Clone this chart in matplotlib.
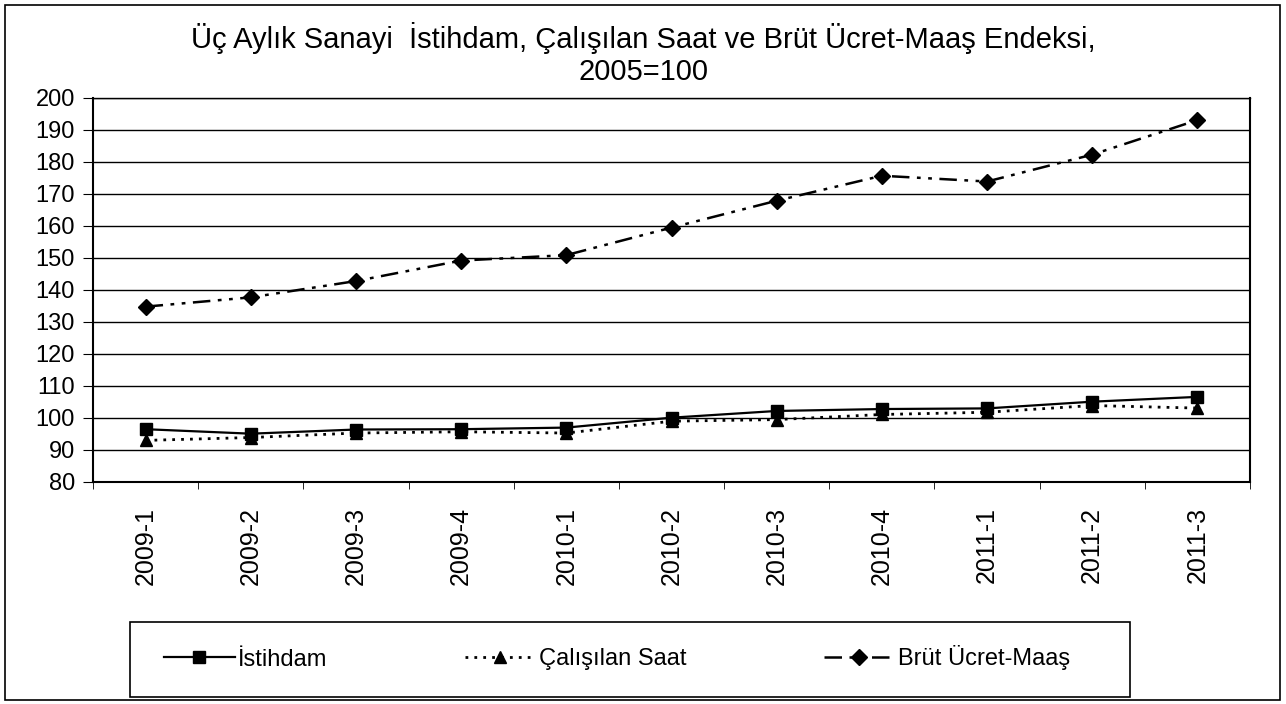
import matplotlib
matplotlib.use('Agg')
import matplotlib.pyplot as plt
from matplotlib.patches import Rectangle

plt.rcParams['font.family'] = ['Liberation Sans', 'DejaVu Sans']

# veriler
donemler = ['2009-1', '2009-2', '2009-3', '2009-4', '2010-1', '2010-2',
            '2010-3', '2010-4', '2011-1', '2011-2', '2011-3']
istihdam = [96.5, 95.1, 96.4, 96.5, 97.0, 100.1, 102.2, 102.8, 103.0, 105.1, 106.6]
calisilan_saat = [93.0, 93.9, 95.3, 95.7, 95.3, 99.0, 99.5, 101.1, 101.8, 103.9, 103.1]
brut_ucret = [134.8, 137.7, 142.8, 149.2, 150.9, 159.5, 167.9, 175.7, 173.9, 182.3, 193.1]

fig = plt.figure(figsize=(12.86, 7.04), dpi=100)
ax = fig.add_axes([93 / 1286, 1 - 482 / 704, (1250 - 93) / 1286, (482 - 98) / 704])

x = list(range(len(donemler)))
ax.plot(x, istihdam, color='black', lw=1.6, marker='s', ms=8, label='İstihdam')
ax.plot(x, calisilan_saat, color='black', lw=2, ls=(0, (1, 2.2)), marker='^', ms=9,
        label='Çalışılan Saat')
ax.plot(x, brut_ucret, color='black', lw=1.8, ls=(0, (7, 3, 1.5, 3, 1.5, 3)), marker='D', ms=8,
        label='Brüt Ücret-Maaş')

ax.set_xlim(-0.5, len(donemler) - 0.5)
ax.set_ylim(80, 200)
ax.set_yticks(range(80, 201, 10))
ax.yaxis.grid(True, color='black', lw=1)
ax.set_axisbelow(True)
ax.set_xticks(x)
ax.set_xticklabels(donemler, rotation=90, fontsize=18)
ax.set_xticks([i - 0.5 for i in range(len(donemler) + 1)], minor=True)
ax.tick_params(axis='x', which='major', length=0, pad=18)
ax.tick_params(axis='x', which='minor', length=5)
ax.tick_params(axis='y', labelsize=17, length=7, pad=6)
for s in ax.spines.values():
    s.set_linewidth(1.5)
ax.spines['top'].set_linewidth(1)

fig.text(0.5, 1 - 38 / 704, 'Üç Aylık Sanayi  İstihdam, Çalışılan Saat ve Brüt Ücret-Maaş Endeksi,',
         ha='center', va='center', fontsize=21)
fig.text(0.5, 1 - 72 / 704, '2005=100', ha='center', va='center', fontsize=21)

# legend kutusu
fig.patches.append(Rectangle((130 / 1286, 1 - 697 / 704), 1000 / 1286, 75 / 704,
                             transform=fig.transFigure, fill=False, edgecolor='black', lw=1.2))
fig.legend(loc='center', bbox_to_anchor=(617 / 1286, 1 - 658 / 704), ncol=3, frameon=False,
           fontsize=17, columnspacing=5.8, handlelength=3.0, handletextpad=0.15)

# dis cerceve
fig.patches.append(Rectangle((5 / 1286, 4 / 704), 1275 / 1286, 695 / 704,
                             transform=fig.transFigure, fill=False, edgecolor='black', lw=1.2))

plt.savefig('out.png', dpi=100)
